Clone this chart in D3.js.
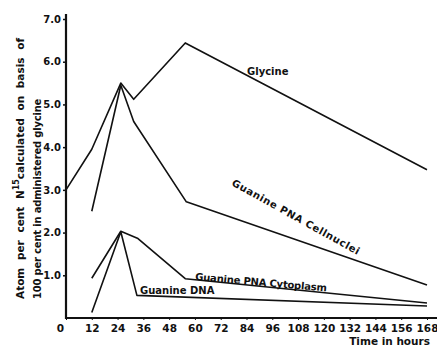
<!DOCTYPE html>
<html>
<head>
<meta charset="utf-8">
<script src="https://cdn.jsdelivr.net/npm/d3@7"></script>
<style>
  body { margin: 0; background: #fff; }
  svg text { font-family: "DejaVu Sans", sans-serif; font-weight: bold; fill: #111; }
</style>
</head>
<body>
<svg id="chart" width="437" height="348"></svg>
<script>
// hours after glycine dose
const glyHours = [0, 12, 25.5, 31.5, 55.5, 168];
const glycine = [3.0, 3.95, 5.5, 5.12, 6.44, 3.47];

const nucHours = [12, 25.5, 31.5, 56, 168];
const cellnuclei = [2.5, 5.45, 4.6, 2.72, 0.77];

const cytHours = [12, 25.5, 33.5, 55.5, 168];
const cytoplasm = [0.93, 2.03, 1.86, 0.92, 0.35];

const dnaHours = [12, 25.5, 33, 168];
const dna = [0.13, 2.02, 0.53, 0.28];

const xTicks = [0, 12, 24, 36, 48, 60, 72, 84, 96, 108, 120, 132, 144, 156, 168];
const yTicks = [1, 2, 3, 4, 5, 6, 7];

const svg = d3.select('#chart');
const x = d3.scaleLinear().domain([0, 168]).range([66, 427]);
const y = d3.scaleLinear().domain([0, 7]).range([318, 19]);

// axes
const xAxis = svg.append('g')
  .attr('transform', 'translate(0,318)')
  .call(d3.axisBottom(x).tickValues(xTicks).tickSize(2).tickPadding(5));
xAxis.select('.domain').remove();
xAxis.selectAll('text').attr('font-size', 10.5).attr('fill', '#111');
xAxis.selectAll('.tick').filter(d => d === 0).select('text').attr('dx', -6);
xAxis.selectAll('line').attr('stroke', '#111');

const yAxis = svg.append('g')
  .attr('transform', 'translate(66,0)')
  .call(d3.axisLeft(y).tickValues(yTicks).tickSize(3).tickPadding(2).tickFormat(d3.format('.1f')));
yAxis.select('.domain').remove();
yAxis.selectAll('text').attr('font-size', 10).attr('fill', '#111');
yAxis.selectAll('line').attr('stroke', '#111').attr('stroke-width', 1.5);

svg.append('line').attr('x1', 66).attr('x2', 66).attr('y1', 14).attr('y2', 319)
  .attr('stroke', '#111').attr('stroke-width', 2.2);
svg.append('line').attr('x1', 65).attr('x2', 437).attr('y1', 318).attr('y2', 318)
  .attr('stroke', '#111').attr('stroke-width', 2.2);

// series
const line = d3.line().x(d => x(d[0])).y(d => y(d[1]));
const series = [
  [glyHours, glycine],
  [nucHours, cellnuclei],
  [cytHours, cytoplasm],
  [dnaHours, dna],
];
svg.append('g').selectAll('path')
  .data(series)
  .join('path')
  .attr('d', s => line(d3.zip(s[0], s[1])))
  .attr('fill', 'none')
  .attr('stroke', '#111')
  .attr('stroke-width', 1.6)
  .attr('stroke-linejoin', 'round');

// labels on the lines
svg.append('text').attr('x', 247).attr('y', 75).attr('font-size', 10).text('Glycine');
svg.append('text').attr('transform', 'translate(231,185) rotate(29)')
  .attr('font-size', 10).attr('letter-spacing', 0.6).text('Guanine PNA Cellnuclei');
svg.append('text').attr('transform', 'translate(195,280) rotate(5)')
  .attr('font-size', 10).attr('letter-spacing', -0.2).text('Guanine PNA Cytoplasm');
svg.append('text').attr('x', 140).attr('y', 294).attr('font-size', 10).text('Guanine DNA');

// axis titles
svg.append('text').attr('transform', 'translate(24,299) rotate(-90)')
  .attr('font-size', 10.5).attr('word-spacing', 4)
  .html('Atom per cent N<tspan dy="-5" font-size="8">15</tspan><tspan dy="5" word-spacing="4">calculated on basis of</tspan>');
svg.append('text').attr('transform', 'translate(41,299) rotate(-90)')
  .attr('font-size', 10).attr('letter-spacing', -0.2).text('100 per cent in administered glycine');
svg.append('text').attr('x', 430).attr('y', 345).attr('text-anchor', 'end')
  .attr('font-size', 10.5).text('Time in hours');
</script>
</body>
</html>
